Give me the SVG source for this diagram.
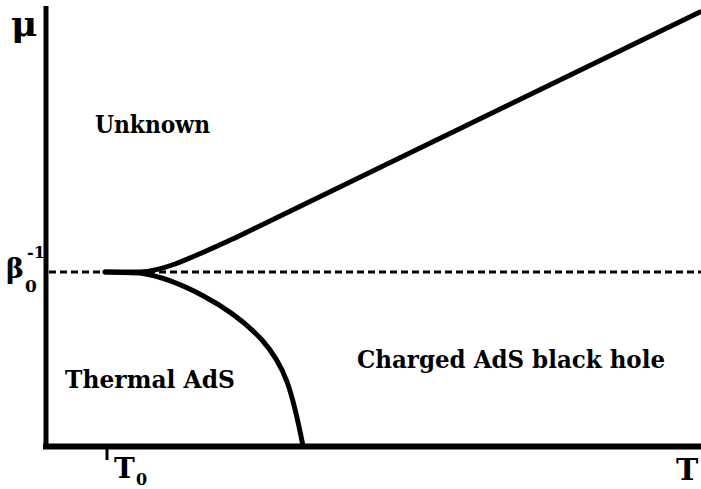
<svg xmlns="http://www.w3.org/2000/svg" width="701" height="489" viewBox="0 0 701 489">
<style>
text{font-family:"DejaVu Serif","Liberation Serif",serif;font-weight:bold;fill:#000}
.axis{stroke:#000;fill:none;stroke-linecap:butt}
.curve{stroke:#000;fill:none;stroke-width:5;stroke-linecap:round;stroke-linejoin:round}
</style>
<rect width="701" height="489" fill="#fff"/>
<g id="axes">
<line class="axis" x1="46" y1="6" x2="46" y2="449" stroke-width="5"/>
<line class="axis" x1="43" y1="446.5" x2="701" y2="446.5" stroke-width="6"/>
<line class="axis" x1="107" y1="446" x2="107" y2="460" stroke-width="3"/>
</g>
<g id="connectors">
<line x1="49" y1="272" x2="701" y2="272" stroke="#000" stroke-width="3" stroke-dasharray="7,4"/>
<path class="curve" d="M105,272 L140,272 C165,271 190,258 235,238 L700,12"/>
<path class="curve" d="M105,272 L140,273 C175,278 230,305 262,340 C285,366 292,390 303,446"/>
</g>
<g id="label-mu"><text x="11" y="36" font-size="36">μ</text></g>
<g id="label-beta">
<text x="6" y="278" font-size="27">β</text>
<text x="25" y="292" font-size="17">0</text>
<text x="27" y="258" font-size="16">-1</text>
</g>
<g id="label-T0">
<text x="114" y="478" font-size="28">T</text>
<text x="136" y="485" font-size="16">0</text>
</g>
<g id="label-T"><text x="676" y="480" font-size="30">T</text></g>
<g id="region-unknown"><text x="95" y="133" font-size="25" textLength="115" lengthAdjust="spacingAndGlyphs">Unknown</text></g>
<g id="region-thermal"><text x="65" y="388" font-size="25" textLength="170" lengthAdjust="spacingAndGlyphs">Thermal AdS</text></g>
<g id="region-charged"><text x="357" y="368" font-size="25" textLength="308" lengthAdjust="spacingAndGlyphs">Charged AdS black hole</text></g>
</svg>
